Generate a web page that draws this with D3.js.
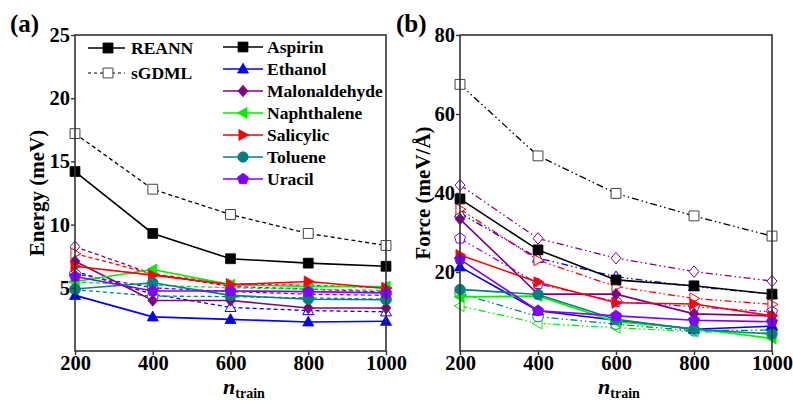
<!DOCTYPE html>
<html><head><meta charset="utf-8">
<script src="https://cdn.jsdelivr.net/npm/d3@7"></script>
<style>
body{margin:0;background:#fff;}
svg text{font-family:'Liberation Serif','Times New Roman',Tinos,'DejaVu Serif',serif !important;font-weight:bold;fill:#000;}
</style></head>
<body><svg id="c" width="793" height="401"></svg>
<script>
const nTrain = [200, 400, 600, 800, 1000];
const molecules = ["Aspirin", "Ethanol", "Malonaldehyde", "Naphthalene", "Salicylic", "Toluene", "Uracil"];
const colors = ["#000000", "#0000ff", "#800080", "#00ee00", "#ff0000", "#008080", "#8000ff"];
const shapes = ["square", "triUp", "diamond", "triLeft", "triRight", "circle", "pentagon"];
const methods = ["REANN", "sGDML"];

// Energy (meV), panel (a)
const energyREANN = [
  [14.2, 9.3, 7.3, 6.95, 6.7],
  [4.4, 2.7, 2.5, 2.3, 2.35],
  [7.1, 4.0, 4.0, 3.4, 3.4],
  [5.5, 6.45, 5.25, 5.1, 5.1],
  [6.7, 6.0, 5.25, 5.5, 4.95],
  [4.9, 5.4, 4.4, 4.1, 4.05],
  [5.9, 4.75, 4.75, 4.7, 4.6]
];
const energySGDML = [
  [17.2, 12.8, 10.8, 9.3, 8.35],
  [6.3, 4.5, 3.45, 3.2, 3.1],
  [8.25, 6.1, 5.1, 4.9, 4.65],
  [5.45, 5.2, 5.0, 4.9, 4.8],
  [7.7, 6.1, 5.3, 5.2, 5.0],
  [4.85, 4.35, 4.3, 4.2, 4.1],
  [6.1, 5.0, 4.7, 4.5, 4.4]
];
// Force (meV/Å), panel (b)
const forceREANN = [
  [38.5, 25.6, 18.0, 16.5, 14.4],
  [21.3, 10.2, 7.8, 5.5, 6.3],
  [33.4, 14.4, 14.4, 9.4, 8.9],
  [13.7, 13.9, 7.4, 5.7, 3.2],
  [24.3, 17.4, 12.2, 11.9, 8.9],
  [15.6, 14.3, 8.0, 5.5, 4.3],
  [23.2, 10.2, 8.9, 7.8, 7.4]
];
const forceSGDML = [
  [67.5, 49.4, 39.9, 34.2, 29.1],
  [34.9, 23.5, 18.8, 16.3, 14.4],
  [42.0, 28.5, 23.5, 20.1, 17.7],
  [11.4, 7.0, 5.9, 4.9, 4.5],
  [35.9, 23.0, 16.3, 13.3, 11.8],
  [14.6, 8.7, 6.8, 5.1, 5.3],
  [28.5, 17.0, 12.5, 11.2, 9.9]
];
const energyTicks = [5, 10, 15, 20, 25];
const forceTicks = [20, 40, 60, 80];

const FONT = "'Liberation Serif','Times New Roman',Tinos,'DejaVu Serif',serif";
const svg = d3.select("#c");

function markerPath(shape, r) {
  switch (shape) {
    case "square": { const s = r * 0.85; return `M${-s},${-s}H${s}V${s}H${-s}Z`; }
    case "triUp": return `M0,${-r}L${r * 0.95},${r * 0.7}L${-r * 0.95},${r * 0.7}Z`;
    case "diamond": return `M0,${-r}L${r * 0.85},0L0,${r}L${-r * 0.85},0Z`;
    case "triLeft": return `M${-r},0L${r * 0.7},${-r * 0.95}L${r * 0.7},${r * 0.95}Z`;
    case "triRight": return `M${r},0L${-r * 0.7},${-r * 0.95}L${-r * 0.7},${r * 0.95}Z`;
    case "circle": { const c = r * 0.9; return `M${c},0A${c},${c} 0 1,1 ${-c},0A${c},${c} 0 1,1 ${c},0Z`; }
    case "pentagon": {
      const pts = d3.range(5).map(i => { const a = -Math.PI / 2 + i * 2 * Math.PI / 5; return [r * Math.cos(a), r * Math.sin(a)]; });
      return "M" + pts.map(p => p.join(",")).join("L") + "Z";
    }
  }
}

function panel(opts) {
  const x = d3.scaleLinear().domain([200, 1000]).range([opts.x0, opts.x1]);
  const y = d3.scaleLinear().domain(opts.yDomain).range([opts.y1, opts.y0]);
  const g = svg.append("g");
  const line = d3.line().x((d, i) => x(nTrain[i])).y(d => y(d));

  opts.sgdml.forEach((vals, k) => {
    g.append("path").attr("d", line(vals)).attr("fill", "none")
      .attr("stroke", colors[k]).attr("stroke-width", 1.3).attr("stroke-dasharray", opts.dash);
  });
  opts.reann.forEach((vals, k) => {
    g.append("path").attr("d", line(vals)).attr("fill", "none")
      .attr("stroke", colors[k]).attr("stroke-width", 1.6);
  });
  opts.sgdml.forEach((vals, k) => {
    vals.forEach((v, i) => {
      g.append("path").attr("d", markerPath(shapes[k], 5.8))
        .attr("transform", `translate(${x(nTrain[i])},${y(v)})`)
        .attr("fill", "#fff").attr("stroke", k === 0 ? "#444" : colors[k]).attr("stroke-width", 1);
    });
  });
  opts.reann.forEach((vals, k) => {
    vals.forEach((v, i) => {
      g.append("path").attr("d", markerPath(shapes[k], 5.8))
        .attr("transform", `translate(${x(nTrain[i])},${y(v)})`)
        .attr("fill", colors[k]).attr("stroke", colors[k]).attr("stroke-width", 0.8);
    });
  });

  g.append("rect").attr("x", opts.x0).attr("y", opts.y0)
    .attr("width", opts.x1 - opts.x0).attr("height", opts.y1 - opts.y0)
    .attr("fill", "none").attr("stroke", "#333").attr("stroke-width", 1.6);

  const xa = g.append("g").attr("transform", `translate(0,${opts.y1})`)
    .call(d3.axisBottom(x).tickValues(nTrain).tickSize(4).tickPadding(0).tickFormat(d3.format("d")));
  const ya = g.append("g").attr("transform", `translate(${opts.x0},0)`)
    .call(d3.axisLeft(y).tickValues(opts.ticks).tickSize(4).tickPadding(1).tickFormat(d3.format("d")));
  [xa, ya].forEach(a => {
    a.attr("font-family", FONT).attr("font-size", 20.5);
    a.select(".domain").remove();
    a.selectAll("line").attr("stroke", "#333").attr("stroke-width", 1.4);
    a.selectAll("text").attr("fill", "#000");
  });

  svg.append("text").attr("transform", `translate(${opts.ytx},${(opts.y0 + opts.y1) / 2 + opts.ytdy}) rotate(-90)`)
    .attr("text-anchor", "middle").attr("font-size", 21).text(opts.ytitle);
  const xt = svg.append("text").attr("x", opts.xtx).attr("y", 394).attr("font-size", 22);
  xt.append("tspan").style("font-style", "italic").text("n");
  xt.append("tspan").attr("dy", 4).attr("font-size", 14).text("train");
  svg.append("text").attr("x", opts.lx).attr("y", 32).attr("font-size", 25).text(opts.label);
  return { x, y };
}

panel({ x0: 75, x1: 386, y0: 35, y1: 351, yDomain: [0, 25], ticks: energyTicks,
  reann: energyREANN, sgdml: energySGDML, dash: "4,3", ytitle: "Energy (meV)", ytx: 44, ytdy: 0,
  xtx: 223, lx: 10, label: "(a)" });
panel({ x0: 460, x1: 772, y0: 35, y1: 351, yDomain: [0, 80], ticks: forceTicks,
  reann: forceREANN, sgdml: forceSGDML, dash: "7,3,1.5,3,1.5,3", ytitle: "Force (meV/Å)", ytx: 430, ytdy: 0,
  xtx: 598, lx: 396, label: "(b)" });

const lg = svg.append("g");
const methodRows = [48, 73];
methods.forEach((m, i) => {
  const yy = methodRows[i];
  lg.append("line").attr("x1", 88).attr("x2", 125).attr("y1", yy).attr("y2", yy)
    .attr("stroke", "#000").attr("stroke-width", i === 0 ? 1.6 : 1.2).attr("stroke-dasharray", i === 0 ? null : "3,3");
  lg.append("path").attr("d", markerPath("square", 5.8)).attr("transform", `translate(108,${yy})`)
    .attr("fill", i === 0 ? "#000" : "#fff").attr("stroke", i === 0 ? "#000" : "#444").attr("stroke-width", 1);
  lg.append("text").attr("x", 131).attr("y", yy + 6).attr("font-size", 17.5).text(m);
});
molecules.forEach((m, k) => {
  const yy = 47 + k * 22;
  lg.append("line").attr("x1", 223).attr("x2", 263).attr("y1", yy).attr("y2", yy)
    .attr("stroke", colors[k]).attr("stroke-width", 1.6);
  lg.append("path").attr("d", markerPath(shapes[k], 5.8)).attr("transform", `translate(243,${yy})`)
    .attr("fill", colors[k]).attr("stroke", colors[k]).attr("stroke-width", 0.8);
  lg.append("text").attr("x", 267).attr("y", yy + 6).attr("font-size", 17.5).text(m);
});
</script></body></html>
